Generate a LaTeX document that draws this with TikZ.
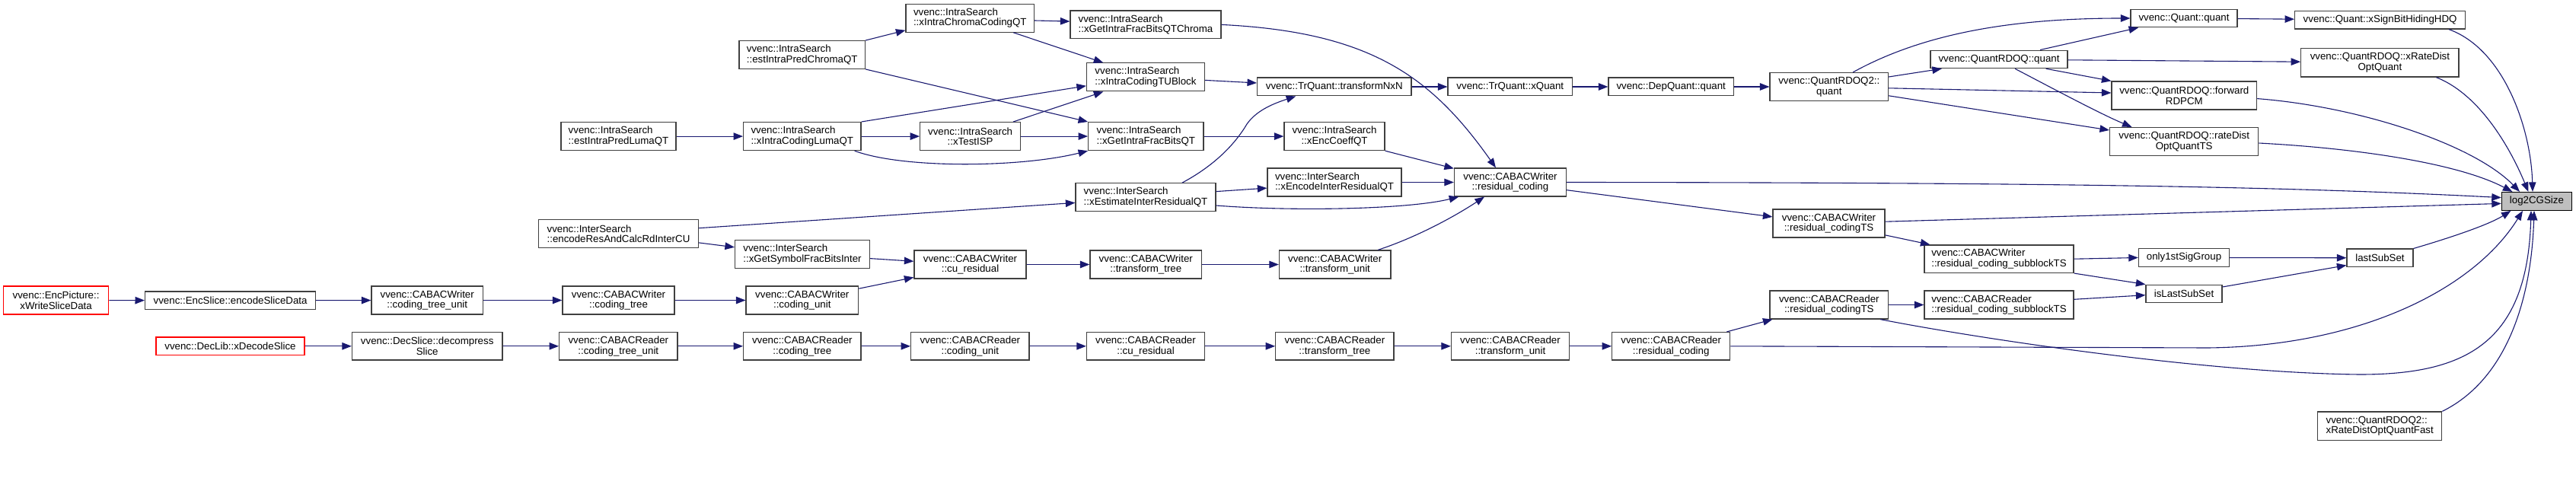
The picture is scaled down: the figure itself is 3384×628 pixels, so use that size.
\documentclass[tikz,border=0pt]{standalone}
\usepackage{fontspec}
\setmainfont{Liberation Sans}
\usetikzlibrary{arrows.meta}
\definecolor{edgecol}{HTML}{191970}
\definecolor{boxcol}{HTML}{404040}
\definecolor{rootfill}{HTML}{BFBFBF}
\tikzset{
  nd/.style={draw=boxcol, line width=1.2pt, fill=white, inner sep=0pt, align=center,
    font=\fontsize{13.3}{13.7}\selectfont},
  ndl/.style={nd, align=left},
  trunc/.style={nd, draw=red},
  rootnd/.style={nd, draw=black, fill=rootfill},
  e/.style={draw=edgecol, line width=1.1pt, -{Triangle[length=12.5pt,width=9.5pt]}}
}
\begin{document}
\begin{tikzpicture}[x=1pt,y=-1pt]
\fill[white] (0,0) rectangle (3384,628);
\useasboundingbox (0,0) rectangle (3384,628);
% nodes
\node[trunc, minimum width=138.4, minimum height=37] (wsd) at (73.6,394.5) {vvenc::EncPicture::\\xWriteSliceData};
\node[nd, minimum width=224, minimum height=23.6] (esd) at (302.6,394.8) {vvenc::EncSlice::encodeSliceData};
\node[trunc, minimum width=195, minimum height=23.5] (dds) at (302.5,454.8) {vvenc::DecLib::xDecodeSlice};
\node[nd, minimum width=197.5, minimum height=36.5] (dsd) at (561.2,454.8) {vvenc::DecSlice::decompress\\Slice};
\node[nd, minimum width=146.4, minimum height=37] (wctu) at (561.2,394.5) {vvenc::CABACWriter\\::coding\_tree\_unit};
\node[nd, minimum width=147, minimum height=37] (wct) at (812.5,394.5) {vvenc::CABACWriter\\::coding\_tree};
\node[nd, minimum width=147.5, minimum height=37] (wcu) at (1053.8,394.5) {vvenc::CABACWriter\\::coding\_unit};
\node[nd, minimum width=155.4, minimum height=36.5] (rctu) at (812.3,454.8) {vvenc::CABACReader\\::coding\_tree\_unit};
\node[nd, minimum width=154.4, minimum height=36.5] (rct) at (1053.8,454.8) {vvenc::CABACReader\\::coding\_tree};
\node[nd, minimum width=155.4, minimum height=36.5] (rcu) at (1274.3,454.8) {vvenc::CABACReader\\::coding\_unit};
\node[nd, minimum width=155, minimum height=36.5] (rcr) at (1505,454.8) {vvenc::CABACReader\\::cu\_residual};
\node[nd, minimum width=155.3, minimum height=36.5] (rtt) at (1753.4,454.8) {vvenc::CABACReader\\::transform\_tree};
\node[nd, minimum width=155, minimum height=36.5] (rtu) at (1984,454.8) {vvenc::CABACReader\\::transform\_unit};
\node[nd, minimum width=155, minimum height=36.5] (rrc) at (2195.2,454.8) {vvenc::CABACReader\\::residual\_coding};
\node[nd, minimum width=155.5, minimum height=37] (rrcts) at (2402.8,400.5) {vvenc::CABACReader\\::residual\_codingTS};
\node[ndl, minimum width=196, minimum height=37] (rrcsb) at (2626,400.5) {vvenc::CABACReader\\::residual\_coding\_subblockTS};
\node[nd, minimum width=100, minimum height=23.5] (isl) at (2869,386) {isLastSubSet};
\node[nd, minimum width=119.2, minimum height=23.5] (o1) at (2869,338.5) {only1stSigGroup};
\node[nd, minimum width=87, minimum height=23.5] (lss) at (3126.5,338.8) {lastSubSet};
\node[rootnd, minimum width=92, minimum height=23.8] (log) at (3332.4,264.4) {log2CGSize};
\node[ndl, minimum width=163, minimum height=37.4] (fast) at (3126.2,559.7) {vvenc::QuantRDOQ2::\\xRateDistOptQuantFast};
\node[ndl, minimum width=196, minimum height=36.5] (wrcsb) at (2626,340.2) {vvenc::CABACWriter\\::residual\_coding\_subblockTS};
\node[nd, minimum width=147, minimum height=37] (wrcts) at (2402.5,293.5) {vvenc::CABACWriter\\::residual\_codingTS};
\node[nd, minimum width=147, minimum height=37] (wrc) at (1984,239.5) {vvenc::CABACWriter\\::residual\_coding};
\node[nd, minimum width=146.6, minimum height=37] (wtu) at (1753.7,347.5) {vvenc::CABACWriter\\::transform\_unit};
\node[nd, minimum width=146.7, minimum height=37] (wtt) at (1505.3,347.5) {vvenc::CABACWriter\\::transform\_tree};
\node[nd, minimum width=147, minimum height=37] (wcr) at (1274.5,347.5) {vvenc::CABACWriter\\::cu\_residual};
\node[ndl, minimum width=177, minimum height=37] (gsi) at (1054,334.1) {vvenc::InterSearch\\::xGetSymbolFracBitsInter};
\node[ndl, minimum width=209.8, minimum height=37] (erc) at (812.5,307.1) {vvenc::InterSearch\\::encodeResAndCalcRdInterCU};
\node[ndl, minimum width=184, minimum height=36.7] (eir) at (1505,259.2) {vvenc::InterSearch\\::xEstimateInterResidualQT};
\node[ndl, minimum width=176, minimum height=37] (enc) at (1753,239.5) {vvenc::InterSearch\\::xEncodeInterResidualQT};
\node[nd, minimum width=132, minimum height=37] (ecq) at (1753,179.1) {vvenc::IntraSearch\\::xEncCoeffQT};
\node[ndl, minimum width=151.3, minimum height=37] (gfq) at (1505.3,179.1) {vvenc::IntraSearch\\::xGetIntraFracBitsQT};
\node[nd, minimum width=131.7, minimum height=37] (isp) at (1274.6,179.1) {vvenc::IntraSearch\\::xTestISP};
\node[ndl, minimum width=154.4, minimum height=37] (lumaC) at (1053.8,179.1) {vvenc::IntraSearch\\::xIntraCodingLumaQT};
\node[ndl, minimum width=151, minimum height=37] (lumaE) at (812.5,179.1) {vvenc::IntraSearch\\::estIntraPredLumaQT};
\node[ndl, minimum width=165.4, minimum height=36.7] (chromaE) at (1053.7,72) {vvenc::IntraSearch\\::estIntraPredChromaQT};
\node[ndl, minimum width=168.6, minimum height=37] (chromaC) at (1274.3,23.7) {vvenc::IntraSearch\\::xIntraChromaCodingQT};
\node[ndl, minimum width=198, minimum height=36.7] (gfc) at (1505,32.4) {vvenc::IntraSearch\\::xGetIntraFracBitsQTChroma};
\node[ndl, minimum width=155, minimum height=37] (tub) at (1505,101.4) {vvenc::IntraSearch\\::xIntraCodingTUBlock};
\node[nd, minimum width=202.4, minimum height=23.8] (tnn) at (1752.8,114) {vvenc::TrQuant::transformNxN};
\node[nd, minimum width=163.5, minimum height=23.8] (xq) at (1983.8,114) {vvenc::TrQuant::xQuant};
\node[nd, minimum width=164.4, minimum height=23.8] (dq) at (2195.2,114) {vvenc::DepQuant::quant};
\node[nd, minimum width=155.5, minimum height=37] (q2) at (2402.8,114) {vvenc::QuantRDOQ2::\\quant};
\node[nd, minimum width=180, minimum height=23.5] (rq) at (2626,77.9) {vvenc::QuantRDOQ::quant};
\node[nd, minimum width=140, minimum height=23.5] (qq) at (2869,24) {vvenc::Quant::quant};
\node[nd, minimum width=224, minimum height=23.8] (sbh) at (3126.6,26.1) {vvenc::Quant::xSignBitHidingHDQ};
\node[nd, minimum width=207.3, minimum height=37.3] (rdo) at (3126.4,82.4) {vvenc::QuantRDOQ::xRateDist\\OptQuant};
\node[nd, minimum width=190.6, minimum height=37] (fwd) at (2869.3,125.5) {vvenc::QuantRDOQ::forward\\RDPCM};
\node[nd, minimum width=195.3, minimum height=37] (rts) at (2869.2,186) {vvenc::QuantRDOQ::rateDist\\OptQuantTS};
% straight horizontal edges
\draw[e] (wsd) -- (esd);
\draw[e] (esd) -- (wctu);
\draw[e] (dds) -- (dsd);
\draw[e] (dsd) -- (rctu);
\draw[e] (wctu) -- (wct);
\draw[e] (wct) -- (wcu);
\draw[e] (rctu) -- (rct);
\draw[e] (rct) -- (rcu);
\draw[e] (rcu) -- (rcr);
\draw[e] (rcr) -- (rtt);
\draw[e] (rtt) -- (rtu);
\draw[e] (rtu) -- (rrc);
\draw[e] (rrcts) -- (rrcsb);
\draw[e] (lumaE) -- (lumaC);
\draw[e] (lumaC) -- (isp);
\draw[e] (isp) -- (gfq);
\draw[e] (gfq) -- (ecq);
\draw[e] (wcr) -- (wtt);
\draw[e] (wtt) -- (wtu);
\draw[e] (enc) -- (wrc);
\draw[e] (tnn) -- (xq);
\draw[e] (xq) -- (dq);
\draw[e] (dq) -- (q2);
\draw[e] (o1) -- (lss);
\draw[e] (qq) -- (sbh);
\draw[e] (wrcsb.east) -- (o1.west);
% intra search
\draw[e] (chromaE.north east) -- ([yshift=3]chromaC.south west);
\draw[e] (chromaE.south east) -- (gfq.north west);
\draw[e] ([xshift=-28]chromaC.south east) -- ([xshift=-55.7]tub.north);
\draw[e] ([yshift=-3.3]chromaC.east) -- ([yshift=4.3]gfc.west);
\draw[e] (lumaC.north east) -- ([yshift=-11.4]tub.west);
\draw[e] ([xshift=-9]lumaC.south east) .. controls +(63,23.4) and +(-89.7,22.3) .. (gfq.south west);
\draw[e] ([xshift=-10]isp.north east) -- ([xshift=-55.7]tub.south);
\draw[e] ([yshift=-4]tub.east) -- ([yshift=5]tnn.west);
% inter search
\draw[e] ([xshift=47.8]eir.north) .. controls (1600,215) and (1625,185) .. (1638,163)
   .. controls (1650,146) and (1670,137) .. ([xshift=-50.6]tnn.south);
\draw[e] ([yshift=7.6]eir.east) -- ([yshift=-7.6]enc.west);
\draw[e] ([yshift=-10.8]eir.east) .. controls (1700,278) and (1850,275) .. ([xshift=6.3]wrc.south west);
\draw[e] ([yshift=7.4]erc.east) -- ([yshift=-7.2]eir.west);
\draw[e] ([yshift=-11.8]erc.east) -- ([yshift=9.3]gsi.west);
\draw[e] ([yshift=-5.5]gsi.east) -- ([yshift=4.2]wcr.west);
\draw[e] ([yshift=15.3]wcu.east) -- ([yshift=-16.9]wcr.west);
\draw[e] ([xshift=-17.5]wtu.north east) .. controls (1860,312) and (1910,285) .. ([xshift=-34]wrc.south);
\draw[e] (ecq.south east) -- ([yshift=-1]wrc.north west);
\draw[e] (gfc.east) .. controls (1800,42) and (1880,100) .. ([xshift=-19]wrc.north);
% quant
\draw[e] ([yshift=13]q2.east) -- ([xshift=-75.2]rq.south);
\draw[e] ([xshift=31.4]q2.north) .. controls (2530,42) and (2650,24) .. (qq.west);
\draw[e] ([yshift=-1.8]q2.east) -- ([yshift=3.5]fwd.west);
\draw[e] ([yshift=-11.8]q2.east) -- ([yshift=15]rts.west);
\draw[e] ([xshift=54]rq.north) -- ([xshift=10.7]qq.south west);
\draw[e] ([yshift=-0.9]rq.east) -- ([yshift=1.2]rdo.west);
\draw[e] ([xshift=61.6]rq.south) -- (fwd.north west);
\draw[e] ([xshift=21]rq.south) .. controls (2700,118) and (2760,150) .. ([xshift=-68.7]rts.north);
% into log2CGSize
\draw[e] ([xshift=90.4]sbh.south) .. controls (3290,65) and (3325,170) .. ([xshift=-5.4]log.north);
\draw[e] ([xshift=74]rdo.south) .. controls (3260,125) and (3300,200) .. ([xshift=-11]log.north);
\draw[e] ([yshift=-4.1]fwd.east) .. controls (3100,140) and (3250,190) .. ([xshift=-22.4]log.north);
\draw[e] ([yshift=-2]rts.east) .. controls (3100,195) and (3230,215) .. ([xshift=14.6]log.north west);
\draw[e] (wrc.east) .. controls (2700,240) and (3000,245) .. ([yshift=4.8]log.west);
\draw[e] ([yshift=2.3]wrcts.east) -- ([yshift=-3]log.west);
\draw[e] ([yshift=-10.2]wrc.east) -- ([yshift=8.6]wrcts.west);
\draw[e] ([yshift=-15.4]wrcts.east) -- ([xshift=8]wrcsb.north west);
\draw[e] (wrcsb.south east) -- (isl.north west);
\draw[e] ([yshift=7.2]rrcsb.east) -- ([yshift=-1.7]isl.west);
\draw[e] ([xshift=-5]rrc.north east) -- ([xshift=4]rrcts.south west);
\draw[e] (rrc.east) -- (2900,457) .. controls (3100,455) and (3250,380) .. ([xshift=-18.4]log.south);
\draw[e] ([xshift=-11]rrcts.south east) .. controls (2600,445) and (2900,490) .. (3100,492)
   .. controls (3240,492) and (3320,450) .. ([xshift=-7.4]log.south);
\draw[e] ([yshift=9]isl.east) -- ([yshift=-9.7]lss.west);
\draw[e] (lss.north east) .. controls (3220,312) and (3270,295) .. ([xshift=12.6]log.south west);
\draw[e] (fast.north east) .. controls (3290,500) and (3325,400) .. ([xshift=-3.4]log.south);
\end{tikzpicture}
\end{document}
